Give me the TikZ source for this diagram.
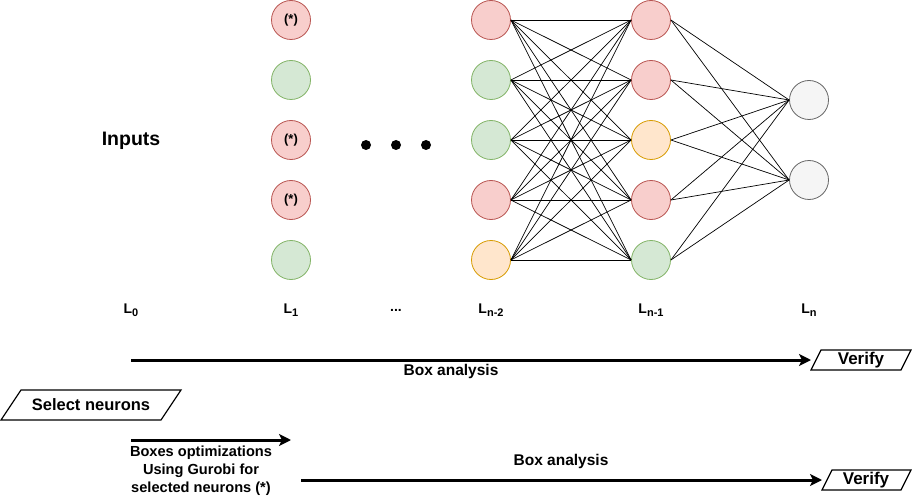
\documentclass[tikz,border=0pt]{standalone}
\usepackage{fontspec}
\setmainfont{Liberation Sans}
\usetikzlibrary{arrows.meta}
\definecolor{rfill}{HTML}{F8CECC}\definecolor{rline}{HTML}{B85450}
\definecolor{gfill}{HTML}{D5E8D4}\definecolor{gline}{HTML}{82B366}
\definecolor{ofill}{HTML}{FFE6CC}\definecolor{oline}{HTML}{D79B00}
\definecolor{wfill}{HTML}{F5F5F5}\definecolor{wline}{HTML}{666666}
\tikzset{
  neuron/.style={circle, minimum size=39pt, inner sep=0pt, line width=0.8pt, font=\fontsize{13}{15}\selectfont\bfseries},
  rn/.style={neuron, fill=rfill, draw=rline},
  gn/.style={neuron, fill=gfill, draw=gline},
  on/.style={neuron, fill=ofill, draw=oline},
  wn/.style={neuron, fill=wfill, draw=wline},
  conn/.style={line width=0.7pt, black},
  bigarrow/.style={line width=3pt, -{Stealth[length=12pt,width=12pt,inset=3pt]}},
  lbl/.style={font=\fontsize{14}{16}\selectfont\bfseries, inner sep=0pt},
  txt/.style={font=\fontsize{15.5}{18}\selectfont\bfseries, inner sep=0pt, align=center},
  para/.style={line width=1.2pt, draw=black, fill=white},
  dot/.style={circle, fill=black, minimum size=10pt, inner sep=0pt}
}
\newcommand\subl[1]{\raisebox{-2.5pt}{\fontsize{11}{12}\selectfont #1}}
\begin{document}
\begin{tikzpicture}[x=1pt,y=-1pt]
\useasboundingbox (0,0) rectangle (912,497);
% L1 column
\node[rn] (l1) at (291,20) {(*)};
\node[gn] (l2) at (291,80) {};
\node[rn] (l3) at (291,140) {(*)};
\node[rn] (l4) at (291,200) {(*)};
\node[gn] (l5) at (291,260) {};
% dots
\node[dot] (d1) at (366,145) {};
\node[dot] (d2) at (396,145) {};
\node[dot] (d3) at (426,145) {};
% Ln-2
\node[rn] (a1) at (491,20) {};
\node[gn] (a2) at (491,80) {};
\node[gn] (a3) at (491,140) {};
\node[rn] (a4) at (491,200) {};
\node[on] (a5) at (491,260) {};
% Ln-1
\node[rn] (b1) at (651,20) {};
\node[rn] (b2) at (651,80) {};
\node[on] (b3) at (651,140) {};
\node[rn] (b4) at (651,200) {};
\node[gn] (b5) at (651,260) {};
% Ln
\node[wn] (c1) at (809,100) {};
\node[wn] (c2) at (809,180) {};
\foreach \i in {1,...,5}{
  \foreach \j in {1,...,5}{\draw[conn] (a\i.east) -- (b\j.west);}
  \foreach \j in {1,2}{\draw[conn] (b\i.east) -- (c\j.west);}
}
% texts
\node[font=\fontsize{19.5}{22}\selectfont\bfseries] (inputs) at (131,141) {Inputs};
\node[lbl] (t0) at (131,310) {L\subl{0}};
\node[lbl] (t1) at (291,310) {L\subl{1}};
\node[lbl] (tdots) at (396,310) {...};
\node[lbl] (t2) at (491,310) {L\subl{n-2}};
\node[lbl] (t3) at (651,310) {L\subl{n-1}};
\node[lbl] (t4) at (809,310) {L\subl{n}};
% first box analysis
\draw[para] (821,350) -- (911,350) -- (901,370) -- (811,370) -- cycle;
\node[txt, font=\fontsize{17}{19}\selectfont\bfseries] (v1) at (861,360) {Verify};
\coordinate (v1in) at (811,360);
\coordinate (s1) at (131,360);
\draw[bigarrow] (s1) -- (v1in);
\node[txt] (ba1) at (451,371) {Box analysis};
% select neurons
\draw[para] (21,390) -- (181,390) -- (161,420) -- (1,420) -- cycle;
\node[txt, font=\fontsize{16.5}{18}\selectfont\bfseries] (sel) at (91,405) {Select neurons};
% boxes optimization
\coordinate (s2) at (131,440);
\coordinate (e2) at (291,440);
\draw[bigarrow] (s2) -- (e2);
\node[txt, font=\fontsize{14.6}{18}\selectfont\bfseries] (opt) at (201,471) {Boxes optimizations\\Using Gurobi for\\selected neurons (*)};
% second box analysis
\draw[para] (832,470) -- (911,470) -- (901,490) -- (822,490) -- cycle;
\node[txt, font=\fontsize{17}{19}\selectfont\bfseries] (v2) at (866,480) {Verify};
\coordinate (v2in) at (822,480);
\coordinate (s3) at (301,480);
\draw[bigarrow] (s3) -- (v2in);
\node[txt] (ba2) at (561,461) {Box analysis};
\end{tikzpicture}
\end{document}
